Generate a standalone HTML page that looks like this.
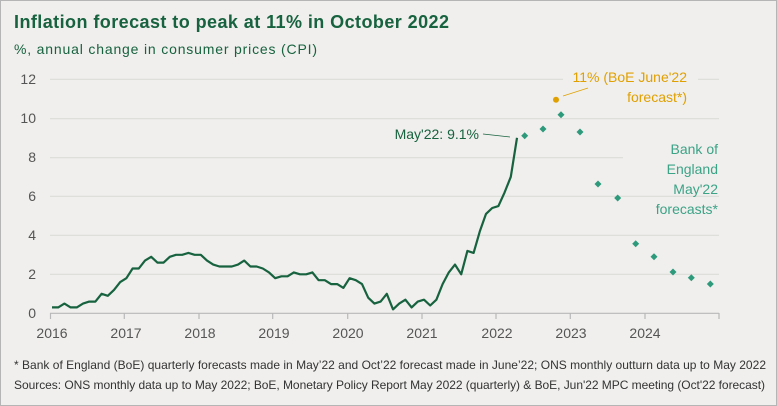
<!DOCTYPE html>
<html><head><meta charset="utf-8"><style>
html,body{margin:0;padding:0;background:#f0efed;}
svg{display:block;font-family:"Liberation Sans",sans-serif;}
</style></head><body>
<svg id="s" width="777" height="406" viewBox="0 0 777 406" xmlns="http://www.w3.org/2000/svg">
<rect x="0.5" y="0.5" width="776" height="405" fill="#f0efed" stroke="#b5b5b5"/>
<text x="14" y="28" font-size="18" font-weight="bold" fill="#17623f" textLength="435">Inflation forecast to peak at 11% in October 2022</text>
<text x="14" y="54" font-size="14" fill="#17623f" textLength="303">%, annual change in consumer prices (CPI)</text>
<g stroke="#dcdbd8" stroke-width="1.2">
<line x1="50" y1="79.3" x2="563" y2="79.3"/><line x1="698" y1="79.3" x2="719" y2="79.3"/>
<line x1="50" y1="118.7" x2="719" y2="118.7"/>
<line x1="50" y1="157.7" x2="623" y2="157.7"/>
<line x1="50" y1="196.3" x2="719" y2="196.3"/>
<line x1="50" y1="235.3" x2="719" y2="235.3"/>
<line x1="50" y1="274.3" x2="719" y2="274.3"/>
</g>
<line x1="50" y1="313.3" x2="719" y2="313.3" stroke="#b8b8b8" stroke-width="1.2"/>
<g stroke="#b8b8b8" stroke-width="1.2" id="ticks"></g>
<g font-size="14" fill="#555" text-anchor="end">
<text x="36" y="84">12</text><text x="36" y="123">10</text><text x="36" y="162">8</text>
<text x="36" y="201">6</text><text x="36" y="240">4</text><text x="36" y="279">2</text><text x="36" y="318">0</text>
</g>
<g font-size="14" fill="#555" text-anchor="middle">
<text x="52" y="338">2016</text><text x="126" y="338">2017</text><text x="200" y="338">2018</text>
<text x="274" y="338">2019</text><text x="348" y="338">2020</text><text x="422" y="338">2021</text>
<text x="497" y="338">2022</text><text x="571" y="338">2023</text><text x="645" y="338">2024</text>
</g>
<polyline id="cpi" fill="none" stroke="#17623f" stroke-width="2.2" stroke-linejoin="round"/>
<g id="dia" fill="#2e9a7c"></g>
<line x1="483" y1="134" x2="510" y2="137" stroke="#17623f" stroke-width="0.8"/>
<text x="479" y="139" font-size="14" fill="#17623f" text-anchor="end">May'22: 9.1%</text>
<circle cx="556" cy="99.7" r="3" fill="#e0a000"/>
<line x1="563" y1="96" x2="588" y2="88" stroke="#e0a000" stroke-width="0.8"/>
<text x="687" y="82" font-size="14" fill="#e0a000" text-anchor="end">11% (BoE June'22</text>
<text x="687" y="102" font-size="14" fill="#e0a000" text-anchor="end">forecast*)</text>
<g font-size="14" fill="#3ba386" text-anchor="end">
<text x="718" y="154">Bank of</text><text x="718" y="174">England</text>
<text x="718" y="194">May'22</text><text x="718" y="214">forecasts*</text>
</g>
<text x="14" y="369" font-size="12" fill="#333" textLength="752">* Bank of England (BoE) quarterly forecasts made in May’22 and Oct’22 forecast made in June’22; ONS monthly outturn data up to May 2022</text>
<text x="14" y="389" font-size="12" fill="#333" textLength="751">Sources: ONS monthly data up to May 2022; BoE, Monetary Policy Report May 2022 (quarterly) &amp; BoE, Jun'22 MPC meeting (Oct'22 forecast)</text>
</svg>
<script>
var d=[0.3,0.3,0.5,0.3,0.3,0.5,0.6,0.6,1.0,0.9,1.2,1.6,
1.8,2.3,2.3,2.7,2.9,2.6,2.6,2.9,3.0,3.0,3.1,3.0,
3.0,2.7,2.5,2.4,2.4,2.4,2.5,2.7,2.4,2.4,2.3,2.1,
1.8,1.9,1.9,2.1,2.0,2.0,2.1,1.7,1.7,1.5,1.5,1.3,
1.8,1.7,1.5,0.8,0.5,0.6,1.0,0.2,0.5,0.7,0.3,0.6,
0.7,0.4,0.7,1.5,2.1,2.5,2.0,3.2,3.1,4.2,5.1,5.4,
5.5,6.2,7.0,9.0];
var p=d.map(function(v,i){return (52+i*6.2).toFixed(1)+","+(313.3-v*19.5).toFixed(1)}).join(" ");
document.getElementById("cpi").setAttribute("points",p);
var dd=[[524.7,135.7],[543,129],[561,114.7],[580,132],[598,184],[617.7,198],[635.7,243.7],[654,256.7],[673,272],[691.3,277.7],[710.3,284]];
var s="";dd.forEach(function(q){var x=q[0],y=q[1];s+='<polygon points="'+x+','+(y-3.5)+' '+(x+3.5)+','+y+' '+x+','+(y+3.5)+' '+(x-3.5)+','+y+'"/>';});
document.getElementById("dia").innerHTML=s;
var t="";[50.5,124.3,199,272.7,347.7,422,496,570.3,645,719].forEach(function(x){t+='<line x1="'+x+'" y1="313" x2="'+x+'" y2="319"/>';});
document.getElementById("ticks").innerHTML=t;
</script>
</body></html>
